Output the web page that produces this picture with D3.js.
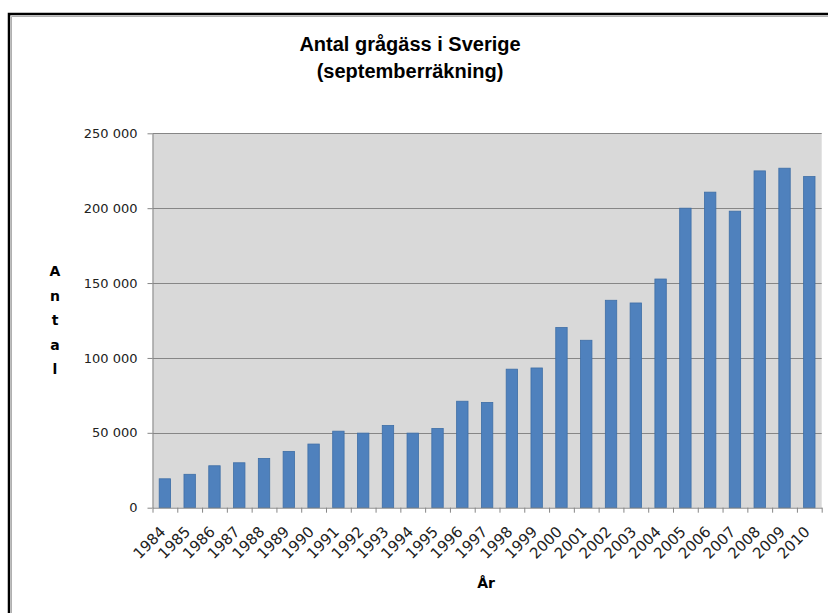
<!DOCTYPE html>
<html>
<head>
<meta charset="utf-8">
<script src="https://cdn.jsdelivr.net/npm/d3@7"></script>
<style>
  body { margin: 0; background: #fff; overflow: hidden; }
  svg { display: block; }
  .tick text { font-family: "DejaVu Sans", sans-serif; font-size: 13px; fill: #222; }
</style>
</head>
<body>
<div id="main"></div>
<script>

var width = 828,
    height = 613;

// data
var years = ["1984", "1985", "1986", "1987", "1988", "1989", "1990", "1991", "1992",
             "1993", "1994", "1995", "1996", "1997", "1998", "1999", "2000", "2001",
             "2002", "2003", "2004", "2005", "2006", "2007", "2008", "2009", "2010"];

var geese = [19300, 22300, 28000, 30000, 32900, 37600, 42500, 51100, 49800,
             54900, 49800, 52900, 71100, 70300, 92500, 93300, 120300, 111800,
             138500, 136700, 152700, 200000, 210700, 198000, 224900, 226700, 221100];

var yTicks = [0, 50000, 100000, 150000, 200000, 250000];

var titleLines = ["Antal grågäss i Sverige", "(septemberräkning)"];
var yTitle = "Antal";
var xTitle = "År";

var plot = { left: 152.5, right: 821.7, top: 133.3, bottom: 507.7 };

var sv = d3.formatLocale({ decimal: ",", thousands: "\u00a0", grouping: [3], currency: ["", " kr"] });
var fmt = sv.format(",d");

var svg = d3.select("div#main")
    .append("svg")
    .attr("width", width)
    .attr("height", height);

// chart frame: only its left and top edges fall inside the picture
svg.append("path")
    .attr("d", `M9,${height} V14 H${width}`)
    .attr("fill", "none")
    .attr("stroke", "#000")
    .attr("stroke-width", 2.5);
svg.append("path")
    .attr("d", `M11.5,${height} V16.5 H${width}`)
    .attr("fill", "none")
    .attr("stroke", "#b0b0b0")
    .attr("stroke-width", 1);

var x = d3.scaleBand()
    .domain(years)
    .range([plot.left, plot.right])
    .paddingInner(0.54)
    .paddingOuter(0.27);

// category boundaries, for the tick marks
var xb = d3.scaleLinear()
    .domain([0, years.length])
    .range([plot.left, plot.right]);

var y = d3.scaleLinear()
    .domain([0, 250000])
    .range([plot.bottom, plot.top]);

svg.append("rect")
    .attr("x", plot.left)
    .attr("y", plot.top)
    .attr("width", plot.right - plot.left)
    .attr("height", plot.bottom - plot.top)
    .attr("fill", "#d9d9d9");

// gridlines
svg.append("g")
    .selectAll("line")
    .data(yTicks.slice(1))
    .enter().append("line")
    .attr("x1", plot.left)
    .attr("x2", plot.right)
    .attr("y1", function(d) { return Math.round(y(d)) + 0.5; })
    .attr("y2", function(d) { return Math.round(y(d)) + 0.5; })
    .attr("stroke", "#868686")
    .attr("stroke-width", 1.2);

svg.append("g")
    .selectAll("rect")
    .data(geese)
    .enter().append("rect")
    .attr("x", function(d, i) { return x(years[i]); })
    .attr("y", function(d) { return y(d); })
    .attr("width", x.bandwidth())
    .attr("height", function(d) { return y(0) - y(d); })
    .attr("fill", "#4f81bd")
    .attr("stroke", "#3e6ea6")
    .attr("stroke-width", 0.8);

// y axis
var yAxis = svg.append("g")
    .attr("transform", `translate(${plot.left},0)`)
    .call(d3.axisLeft(y).tickValues(yTicks).tickFormat(fmt).tickSize(5).tickSizeOuter(0).tickPadding(10));
yAxis.select(".domain").attr("stroke", "#868686");
yAxis.selectAll(".tick line").attr("stroke", "#868686");

// x axis: marks at category boundaries
var xAxis = svg.append("g")
    .attr("transform", `translate(0,${plot.bottom})`)
    .call(d3.axisBottom(xb).tickValues(d3.range(years.length + 1)).tickFormat("").tickSize(5).tickSizeOuter(0));
xAxis.select(".domain").attr("stroke", "#868686");
xAxis.selectAll(".tick line").attr("stroke", "#868686");

svg.append("g")
    .selectAll("text")
    .data(years)
    .enter().append("text")
    .attr("transform", function(d) { return `translate(${x(d) + x.bandwidth() / 2 + 1.5},${plot.bottom + 25}) rotate(-45)`; })
    .attr("text-anchor", "end")
    .attr("font-family", "DejaVu Sans, sans-serif")
    .attr("font-size", 15)
    .attr("fill", "#222")
    .text(function(d) { return d; });

// titles
svg.append("text")
    .attr("x", 410)
    .attr("y", 51)
    .attr("text-anchor", "middle")
    .attr("font-family", "Liberation Sans, Arial, sans-serif")
    .attr("font-weight", "bold")
    .attr("font-size", 20)
    .attr("fill", "#000")
    .selectAll("tspan")
    .data(titleLines)
    .enter().append("tspan")
    .attr("x", 410)
    .attr("dy", function(d, i) { return i ? 27 : 0; })
    .text(function(d) { return d; });

svg.append("text")
    .attr("text-anchor", "middle")
    .attr("font-family", "DejaVu Sans, sans-serif")
    .attr("font-weight", "bold")
    .attr("font-size", 14)
    .attr("fill", "#000")
    .selectAll("tspan")
    .data(yTitle.split(""))
    .enter().append("tspan")
    .attr("x", 55)
    .attr("y", function(d, i) { return 276 + i * 24.5; })
    .text(function(d) { return d; });

svg.append("text")
    .attr("x", 486)
    .attr("y", 588)
    .attr("text-anchor", "middle")
    .attr("font-family", "DejaVu Sans, sans-serif")
    .attr("font-weight", "bold")
    .attr("font-size", 14)
    .attr("fill", "#000")
    .text(xTitle);

</script>
</body>
</html>
